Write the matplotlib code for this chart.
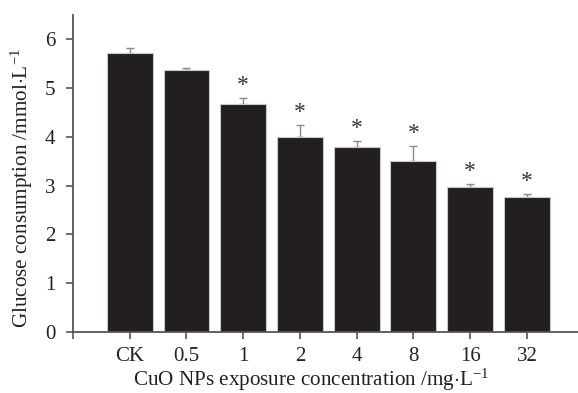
import matplotlib
matplotlib.use("Agg")
import matplotlib.pyplot as plt
import numpy as np

# Data
categories = ["CK", "0.5", "1", "2", "4", "8", "16", "32"]
glucose = [5.73, 5.37, 4.68, 4.00, 3.80, 3.51, 2.96, 2.76]
errors = [0.10, 0.05, 0.12, 0.24, 0.12, 0.30, 0.07, 0.06]
significant = [False, False, True, True, True, True, True, True]

plt.rcParams["font.family"] = ["Liberation Serif", "DejaVu Serif"]
plt.rcParams["mathtext.fontset"] = "custom"
plt.rcParams["mathtext.rm"] = "Liberation Serif"
plt.rcParams["mathtext.it"] = "Liberation Serif:italic"

fig = plt.figure(figsize=(5.78, 3.93), dpi=100)
ax = fig.add_axes([73 / 578, 1 - 331.7 / 393, 1 - 73 / 578, 316.7 / 393])

x = np.arange(len(categories))
ax.bar(x, glucose, width=0.81, color="#231f20", edgecolor="#c8c8c8", linewidth=0.8, zorder=2)
ax.errorbar(x, glucose, yerr=[np.zeros(len(errors)), errors], fmt="none",
            ecolor="#8a8a8a", elinewidth=1.0, capsize=3.2, capthick=1.0, zorder=1)

# significance stars above the error bars
for xi, g, e, s in zip(x, glucose, errors, significant):
    if s:
        ax.annotate("*", (xi, g + e), xytext=(0, 9), textcoords="offset points",
                    ha="center", va="center", fontsize=17, color="#333333")

ax.set_xlim(-1, 7.9)
ax.set_ylim(0, 6.5)
ax.set_xticks(np.arange(-1, len(categories)))
ax.set_xticklabels([""] + categories)
ax.set_yticks(np.arange(0, 7))

for side in ["top", "right"]:
    ax.spines[side].set_visible(False)
for side in ["left", "bottom"]:
    ax.spines[side].set_color("#555555")
    ax.spines[side].set_linewidth(1.3)

ax.tick_params(axis="both", direction="out", length=4.7, width=1.2, color="#555555",
               labelsize=15, labelcolor="#222222")
ax.tick_params(axis="x", pad=6)
ax.tick_params(axis="y", pad=8)

fig.text(311.5 / 578, 1 - 385.5 / 393, r"CuO NPs exposure concentration /mg$\cdot$L$^{-1}$",
         ha="center", va="baseline", fontsize=15.2, color="#222222")
fig.text(28 / 578, 1 - 188.5 / 393, r"Glucose consumption /mmol$\cdot$L$^{-1}$",
         rotation=90, rotation_mode="anchor", ha="center", va="baseline",
         fontsize=15.2, color="#222222")

fig.savefig("out.png", dpi=100)
